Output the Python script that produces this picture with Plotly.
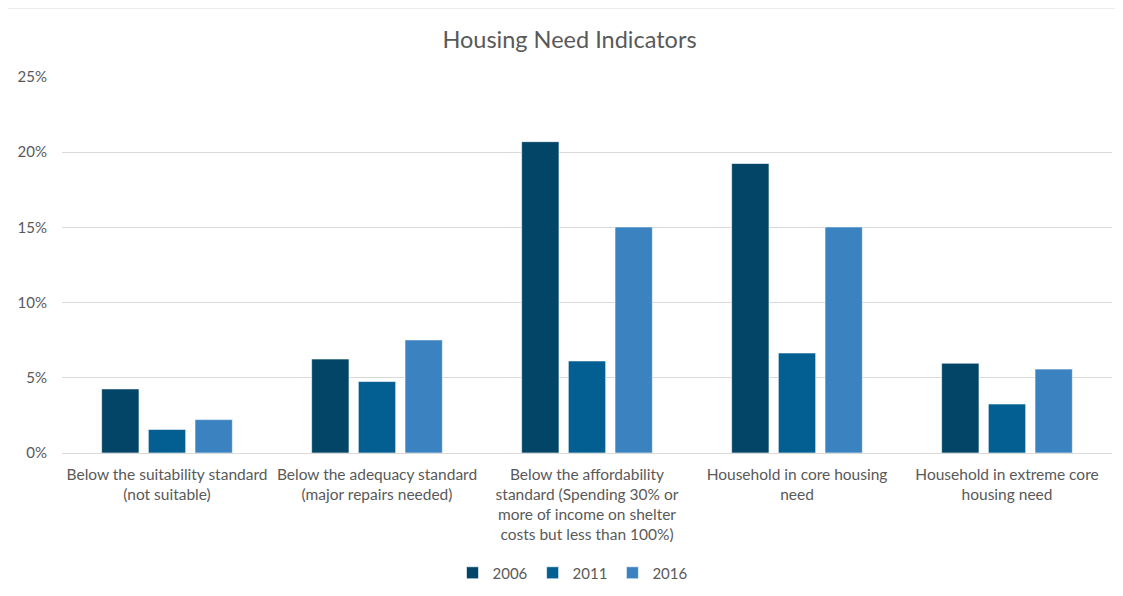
import plotly.graph_objects as go

categories = [
    "Below the suitability standard<br>(not suitable)",
    "Below the adequacy standard<br>(major repairs needed)",
    "Below the affordability<br>standard (Spending 30% or<br>more of income on shelter<br>costs but less than 100%)",
    "Household in core housing<br>need",
    "Household in extreme core<br>housing need",
]
series_names = ["2006", "2011", "2016"]
values_2006 = [0.0426, 0.0625, 0.207, 0.1925, 0.0597]
values_2011 = [0.0157, 0.0475, 0.0612, 0.0665, 0.0326]
values_2016 = [0.0222, 0.0752, 0.1503, 0.1503, 0.0558]
colors = ["#034566", "#035e91", "#3b82c0"]

# page body has an 8px margin, so the figure is offset by 8px
OFF = 8
W, H = 1123 - OFF, 596 - OFF
L, R, T, B = 62 - OFF, 11, 77 - OFF, 143
pw, ph = W - L - R, H - T - B

fig = go.Figure()
for name, vals, col in zip(series_names, [values_2006, values_2011, values_2016], colors):
    fig.add_trace(go.Bar(
        x=categories, y=vals, name=name,
        marker=dict(color=col, line=dict(color="rgba(255,255,255,0.6)", width=1)),
    ))

def px_to_paper_x(px):
    return (px - OFF - L) / pw

def px_to_paper_y(py):
    return (H - B - (py - OFF)) / ph

fig.add_shape(type="rect", xref="paper", yref="paper",
              x0=px_to_paper_x(6), x1=px_to_paper_x(1140),
              y0=px_to_paper_y(620), y1=px_to_paper_y(8),
              line=dict(color="#d9d9d9", width=1), layer="below")

fig.update_layout(
    width=W, height=H,
    margin=dict(l=L, r=R, t=T, b=B, autoexpand=False),
    paper_bgcolor="white", plot_bgcolor="white",
    font=dict(family="Lato, Open Sans, sans-serif", color="#595959", size=15),
    title=dict(text="Housing Need Indicators", x=(569.5 - OFF) / W, xanchor="center",
               y=1 - (40 - OFF) / H, yanchor="middle",
               font=dict(size=23.5, color="#595959")),
    barmode="group", bargap=0.333, bargroupgap=0.2,
    showlegend=True,
    legend=dict(orientation="h", x=px_to_paper_x(573), xanchor="center",
                y=px_to_paper_y(573), yanchor="middle",
                font=dict(size=15, color="#595959"),
                itemwidth=30, traceorder="normal"),
    xaxis=dict(showgrid=False, showline=False, ticks="", automargin=False,
               ticklabelstandoff=10,
               tickfont=dict(size=15.5, color="#595959")),
    yaxis=dict(range=[0, 0.25], dtick=0.05, tickformat=".0%", automargin=False,
               showgrid=True, gridcolor="#d9d9d9", gridwidth=1,
               zeroline=True, zerolinecolor="#d9d9d9", zerolinewidth=1,
               showline=False, ticks="", ticklabelstandoff=14,
               tickfont=dict(size=15, color="#595959")),
)

fig.write_html("out.html")
